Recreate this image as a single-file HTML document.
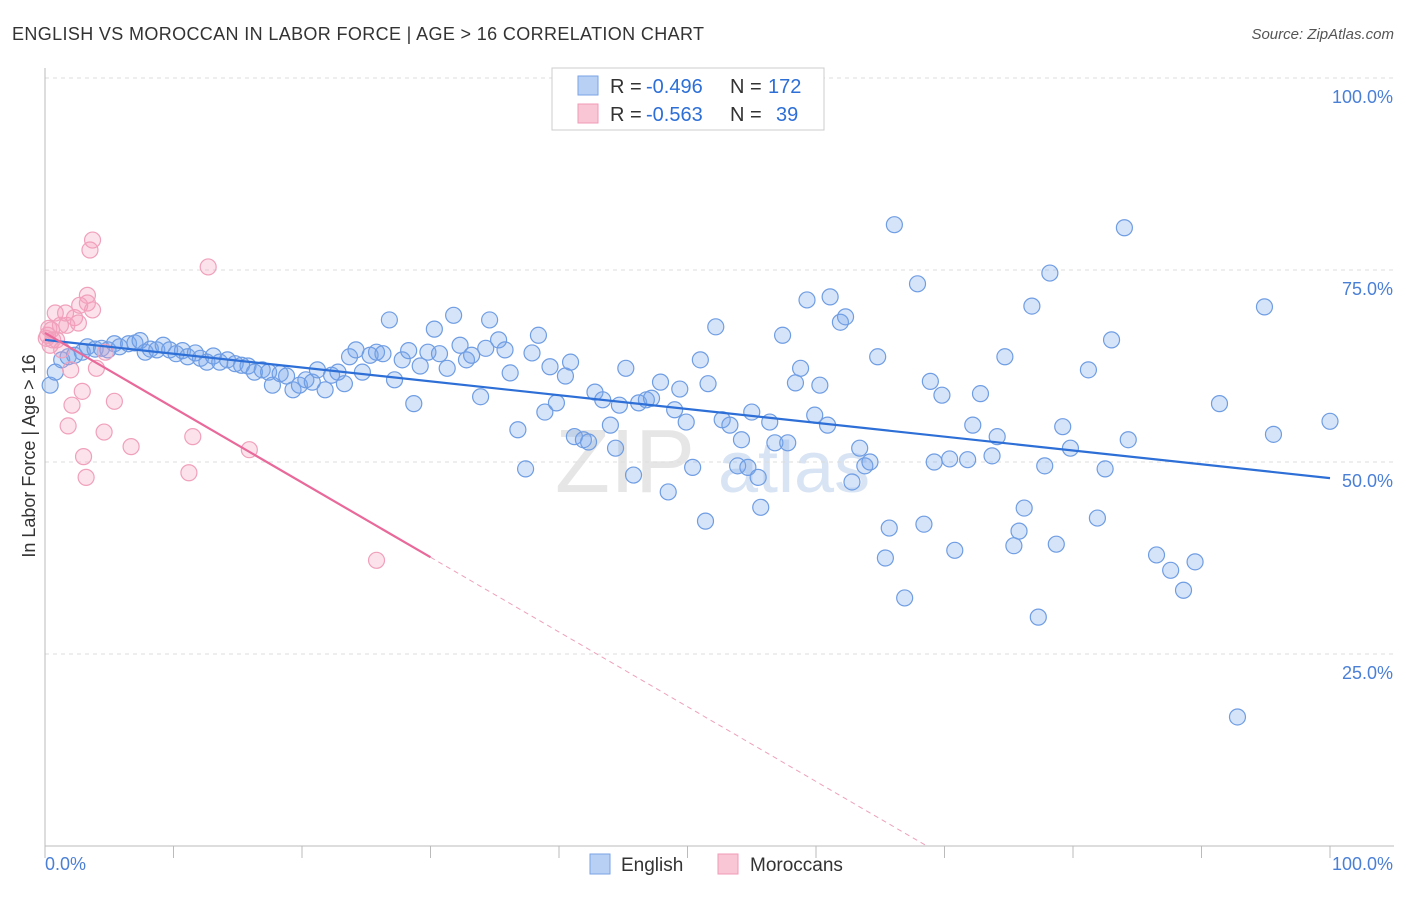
<!DOCTYPE html>
<html><head><meta charset="utf-8"><style>
body{margin:0;background:#fff;font-family:"Liberation Sans",sans-serif;}
svg text{font-family:"Liberation Sans",sans-serif;}
</style></head><body>
<svg id="chart" width="1406" height="892" xmlns="http://www.w3.org/2000/svg">
<text x="12" y="40" font-size="18" fill="#333" textLength="692">ENGLISH VS MOROCCAN IN LABOR FORCE | AGE &gt; 16 CORRELATION CHART</text>
<text x="1394" y="39" font-size="15" fill="#555" text-anchor="end" font-style="italic">Source: ZipAtlas.com</text>
<text x="35" y="456" font-size="18" fill="#333" text-anchor="middle" transform="rotate(-90 35 456)">In Labor Force | Age &gt; 16</text>
<text x="555" y="492" font-size="90" fill="#e6e6e6" font-family="Liberation Serif">ZIP</text>
<text x="718" y="492" font-size="72" fill="#d8e4f4">atlas</text>
<g id="grid"></g><g id="pts"></g><g id="trend"></g>
<g>
<rect x="552" y="68" width="272" height="62" fill="#fff" stroke="#ccc"/>
<rect x="578" y="76" width="20" height="19" fill="#b8d0f4" stroke="#7aa3e6"/>
<rect x="578" y="104" width="20" height="19" fill="#f9c6d6" stroke="#f09ab4"/>
<text x="610" y="93" font-size="20" fill="#333">R =</text>
<text x="646" y="93" font-size="20" fill="#2d6fd6">-0.496</text>
<text x="730" y="93" font-size="20" fill="#333">N =</text>
<text x="768" y="93" font-size="20" fill="#2d6fd6">172</text>
<text x="610" y="121" font-size="20" fill="#333">R =</text>
<text x="646" y="121" font-size="20" fill="#2d6fd6">-0.563</text>
<text x="730" y="121" font-size="20" fill="#333">N =</text>
<text x="776" y="121" font-size="20" fill="#2d6fd6">39</text>
</g>
<g>
<rect x="590" y="854" width="20" height="20" fill="#b8d0f4" stroke="#7aa3e6"/>
<text x="621" y="871" font-size="19" fill="#333">English</text>
<rect x="718" y="854" width="20" height="20" fill="#f9c6d6" stroke="#f09ab4"/>
<text x="750" y="871" font-size="19" fill="#333">Moroccans</text>
</g>
</svg>
<script>
const englishX=[0.4,0.8,1.3,1.8,2.3,2.9,3.3,3.9,4.4,4.9,5.4,5.8,6.5,7.0,7.4,7.8,8.2,8.7,9.2,9.7,10.2,10.7,11.1,11.7,12.1,12.6,13.1,13.6,14.2,14.8,15.3,15.8,16.3,16.9,17.4,17.7,18.3,18.8,19.3,19.8,20.3,20.8,21.2,21.8,22.3,22.8,23.3,23.7,24.2,24.7,25.3,25.8,26.3,26.8,27.2,27.8,28.3,28.7,29.2,29.8,30.3,30.7,31.3,31.8,32.3,32.8,33.2,33.9,34.3,34.6,35.3,35.8,36.2,36.8,37.4,37.9,38.4,38.9,39.3,39.8,40.5,40.9,41.2,41.9,42.3,42.8,43.4,44.0,44.4,44.7,45.2,45.8,46.2,46.8,47.2,47.9,48.5,49.0,49.4,49.9,50.4,51.0,51.4,51.6,52.2,52.7,53.3,53.9,54.2,54.7,55.0,55.5,55.7,56.4,56.8,57.4,57.8,58.4,58.8,59.3,59.9,60.3,60.9,61.1,61.9,62.3,62.8,63.4,63.8,64.2,64.8,65.4,65.7,66.1,66.9,67.9,68.4,68.9,69.2,69.8,70.4,70.8,71.8,72.2,72.8,73.7,74.1,74.7,75.4,75.8,76.2,76.8,77.3,77.8,78.2,78.7,79.2,79.8,81.2,81.9,82.5,83.0,84.0,84.3,86.5,87.6,88.6,89.5,91.4,92.8,94.9,95.6,100.0];
const englishY=[60.0,61.7,63.3,63.7,63.9,64.3,65.0,64.7,64.8,64.6,65.4,65.0,65.4,65.5,65.8,64.3,64.7,64.6,65.2,64.6,64.1,64.5,63.7,64.2,63.5,63.0,63.8,63.0,63.3,62.8,62.6,62.5,61.7,62.0,61.7,60.0,61.5,61.2,59.4,60.0,60.7,60.4,62.0,59.4,61.3,61.7,60.2,63.7,64.6,61.7,63.9,64.3,64.1,68.5,60.7,63.3,64.5,57.6,62.5,64.3,67.3,64.1,62.2,69.1,65.2,63.3,63.9,58.5,64.8,68.5,65.9,64.6,61.6,54.2,49.1,64.2,66.5,56.5,62.4,57.7,61.2,63.0,53.3,52.9,52.6,59.1,58.1,54.8,51.8,57.4,62.2,48.3,57.7,58.1,58.3,60.4,46.1,56.8,59.5,55.2,49.3,63.3,42.3,60.2,67.6,55.5,54.8,49.5,52.9,49.3,56.5,48.0,44.1,55.2,52.5,66.5,52.5,60.3,62.2,71.1,56.1,60.0,54.8,71.5,68.2,68.9,47.4,51.8,49.5,50.0,63.7,37.5,41.4,80.9,32.3,73.2,41.9,60.5,50.0,58.7,50.4,38.5,50.3,54.8,58.9,50.8,53.3,63.7,39.1,41.0,44.0,70.3,29.8,49.5,74.6,39.3,54.6,51.8,62.0,42.7,49.1,65.9,80.5,52.9,37.9,35.9,33.3,37.0,57.6,16.8,70.2,53.6,55.3];
const moroccanX=[0.1,0.2,0.3,0.4,0.5,0.6,0.8,0.9,1.2,1.3,1.6,1.7,1.8,2.0,2.1,2.3,2.6,2.7,2.9,3.0,3.2,3.3,3.3,3.5,3.7,3.7,4.0,4.6,4.7,5.4,6.7,11.2,11.5,12.7,15.9,25.8];
const moroccanY=[66.1,66.5,67.4,65.2,67.2,65.9,69.4,65.9,67.8,64.6,69.4,67.8,54.7,62.0,57.4,68.8,68.1,70.4,59.2,50.7,48.0,71.7,70.7,77.6,69.8,78.9,62.2,53.9,64.3,57.9,52.0,48.6,53.3,75.4,51.6,37.2];
const englishTrend=[65.9,47.9];
const moroccanTrend=[66.8,37.6];
const yTicks=[25,50,75,100];
const yTickLabels=["25.0%","50.0%","75.0%","100.0%"];
const xTicks=[0,10,20,30,40,50,60,70,80,90,100];

const NS="http://www.w3.org/2000/svg";
const X0=45,X1=1330,Y0=846,YT=78;
const sx=v=>X0+(X1-X0)*v/100;
const sy=v=>Y0-(Y0-YT)*v/100;
function mk(tag,attrs,parent){const e=document.createElementNS(NS,tag);for(const k in attrs)e.setAttribute(k,attrs[k]);parent.appendChild(e);return e;}
const grid=document.getElementById('grid');
yTicks.forEach((t,i)=>{
  const l=mk('line',{x1:X0,x2:1394,y1:sy(t),y2:sy(t),stroke:'#ddd','stroke-dasharray':'4,4'},grid);
  
  
  const tx=mk('text',{x:1393,y:sy(t)+25,'font-size':18,fill:'#4a7fd6','text-anchor':'end'},grid);
  tx.textContent=yTickLabels[i];
  
  
});
const ax=mk('line',{x1:X0,x2:X0,y1:68,y2:Y0,stroke:'#bbb'},grid);


const bx=mk('line',{x1:X0,x2:1394,y1:Y0,y2:Y0,stroke:'#bbb'},grid);


xTicks.forEach(t=>{
  const l=mk('line',{x1:sx(t),x2:sx(t),y1:Y0,y2:Y0+12,stroke:'#bbb'},grid);
  
  
});
const xl0=mk('text',{x:45,y:870,'font-size':18,fill:'#4a7fd6'},grid);xl0.textContent='0.0%';


const xl1=mk('text',{x:1393,y:870,'font-size':18,fill:'#4a7fd6','text-anchor':'end'},grid);xl1.textContent='100.0%';



const pts=document.getElementById('pts');
englishX.forEach((x,i)=>{
  const c=mk('circle',{cx:sx(x),cy:sy(englishY[i]),r:8,fill:'rgba(120,165,235,0.3)',stroke:'#6f9de3','stroke-width':1.2},pts);
  
  
});
moroccanX.forEach((x,i)=>{
  const c=mk('circle',{cx:sx(x),cy:sy(moroccanY[i]),r:8,fill:'rgba(245,160,190,0.3)',stroke:'#f0a0bb','stroke-width':1.2},pts);
  
  
});
const tr=document.getElementById('trend');
const et=mk('line',{x1:sx(0),y1:sy(englishTrend[0]),x2:sx(100),y2:sy(englishTrend[1]),stroke:'#2d6fd6','stroke-width':2.2},tr);


const slope=(moroccanTrend[1]-moroccanTrend[0])/30;
const mt=mk('line',{x1:sx(0),y1:sy(moroccanTrend[0]),x2:sx(30),y2:sy(moroccanTrend[1]),stroke:'#e8699a','stroke-width':2.2},tr);


const xEnd=-moroccanTrend[0]/slope;
const md=mk('line',{x1:sx(30),y1:sy(moroccanTrend[1]),x2:sx(xEnd),y2:sy(0),stroke:'#eea0bb','stroke-width':1,'stroke-dasharray':'5,4'},tr);


</script>
</body></html>
